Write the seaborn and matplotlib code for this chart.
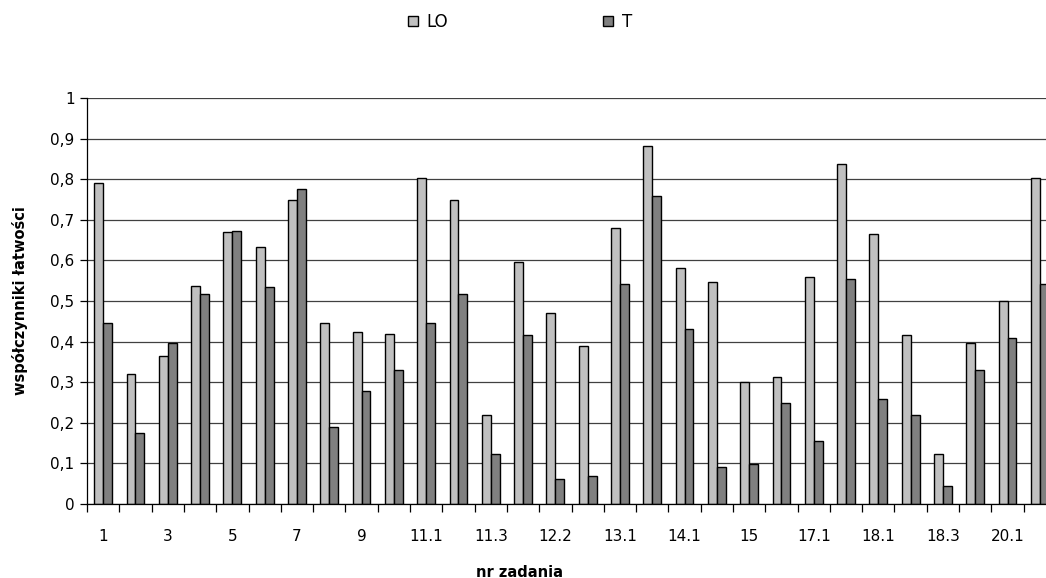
import matplotlib
matplotlib.use("Agg")
import matplotlib.pyplot as plt
import seaborn as sns
import pandas as pd
import numpy as np
from matplotlib.ticker import FixedLocator, FixedFormatter

categories = ["1", "2", "3", "4", "5", "6", "7", "8", "9", "10",
              "11.1", "11.2", "11.3", "12.1", "12.2", "12.3", "13.1", "13.2", "14.1", "14.2",
              "15", "16", "17.1", "17.2", "18.1", "18.2", "18.3", "19", "20.1", "20.2"]
lo_values = [0.790, 0.321, 0.365, 0.538, 0.669, 0.633, 0.748, 0.447, 0.423, 0.419,
             0.803, 0.748, 0.219, 0.597, 0.471, 0.388, 0.680, 0.882, 0.582, 0.547,
             0.301, 0.314, 0.558, 0.838, 0.665, 0.416, 0.123, 0.396, 0.499, 0.803]
t_values = [0.447, 0.176, 0.396, 0.518, 0.673, 0.534, 0.776, 0.190, 0.278, 0.329,
            0.447, 0.518, 0.123, 0.416, 0.061, 0.068, 0.542, 0.759, 0.432, 0.092,
            0.099, 0.250, 0.156, 0.554, 0.259, 0.219, 0.045, 0.329, 0.408, 0.542]
series_names = ["LO", "T"]
y_ticks = [0, 0.1, 0.2, 0.3, 0.4, 0.5, 0.6, 0.7, 0.8, 0.9, 1.0]
y_tick_labels = ["0", "0,1", "0,2", "0,3", "0,4", "0,5", "0,6", "0,7", "0,8", "0,9", "1"]

df = pd.DataFrame({
    "zadanie": categories * 2,
    "wartosc": lo_values + t_values,
    "grupa": [series_names[0]] * len(categories) + [series_names[1]] * len(categories),
})

sns.set_theme(style="white")
plt.rcParams["font.family"] = ["Liberation Sans Narrow", "DejaVu Sans"]
plt.rcParams["text.color"] = "black"
plt.rcParams["axes.labelcolor"] = "black"
plt.rcParams["xtick.color"] = "black"
plt.rcParams["ytick.color"] = "black"

fig = plt.figure(figsize=(10.46, 5.78), dpi=100)
ax = fig.add_axes([87 / 1046, 74 / 578, (1046 - 87) / 1046, (504 - 98) / 578])

sns.barplot(data=df, x="zadanie", y="wartosc", hue="grupa", order=categories,
            hue_order=series_names, palette={"LO": "#C0C0C0", "T": "#808080"},
            edgecolor="black", linewidth=1.0, width=0.55, saturation=1,
            ax=ax, legend=True)

n = len(categories)
ax.set_xlim(-0.5, -0.5 + (1046 - 87) / 32.3)
ax.set_ylim(0, 1.0)

# y axis
ax.set_yticks(y_ticks)
ax.set_yticklabels(y_tick_labels)
ax.yaxis.grid(True, color="#404040", linewidth=0.9)
ax.set_axisbelow(True)
ax.tick_params(axis="y", direction="out", length=5, width=0.9, color="black",
               labelcolor="black", labelsize=11, pad=4, left=True)

# x axis: labels every other category, tick marks at boundaries
ax.xaxis.set_major_locator(FixedLocator(list(range(0, n, 2))))
ax.xaxis.set_major_formatter(FixedFormatter([categories[i] for i in range(0, n, 2)]))
ax.xaxis.set_minor_locator(FixedLocator([i - 0.5 for i in range(n + 1)]))
ax.tick_params(axis="x", which="major", length=0, labelsize=11, pad=18,
               labelcolor="black")
ax.tick_params(axis="x", which="minor", direction="out", length=6, width=0.9,
               color="black", bottom=True)

for side in ["top", "right"]:
    ax.spines[side].set_visible(False)
for side in ["left", "bottom"]:
    ax.spines[side].set_color("black")
    ax.spines[side].set_linewidth(0.9)

ax.set_xlabel("nr zadania", fontsize=10.5, fontweight="bold", color="black")
ax.set_ylabel("współczynniki łatwości", fontsize=10.5, fontweight="bold", color="black")
ax.xaxis.set_label_coords((520 - 87) / (1046 - 87), -(565 - 504) / (504 - 98))
ax.yaxis.set_label_coords(-(87 - 28) / (1046 - 87), 0.5)

handles, labels = ax.get_legend_handles_labels()
leg = ax.legend(handles, labels, loc="center", bbox_to_anchor=(520 / 1046, 1 - 22 / 578),
                bbox_transform=fig.transFigure, ncol=2, frameon=False, fontsize=12,
                handlelength=0.6, handleheight=0.6, handletextpad=0.5, columnspacing=9.3)
for txt in leg.get_texts():
    txt.set_color("black")

fig.savefig("out.png", dpi=100)
